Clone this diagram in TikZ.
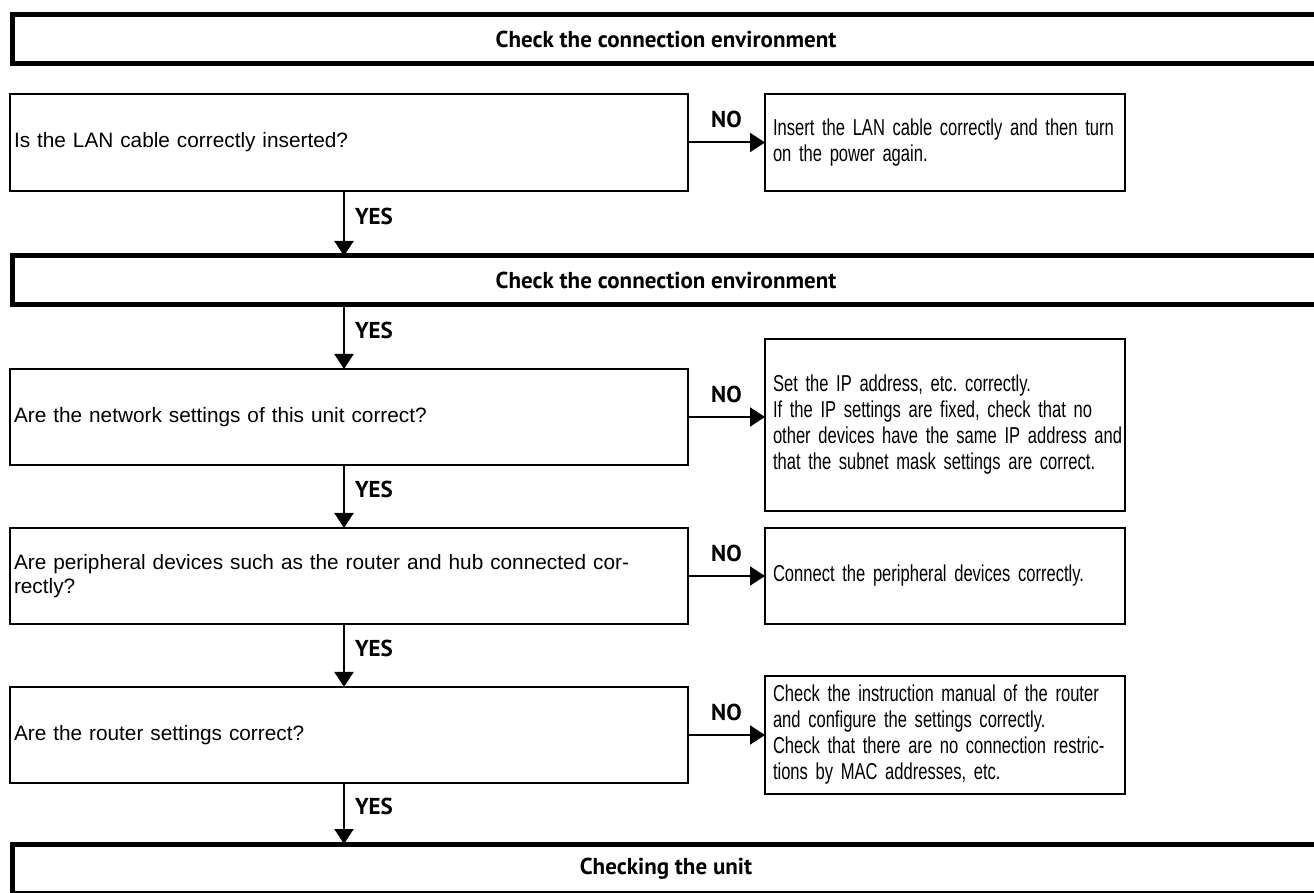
\documentclass[tikz,border=0pt]{standalone}
\usepackage{fontspec}
\setmainfont{Liberation Sans}
\newfontfamily\qfont{Liberation Sans}
\newfontfamily\afont[FakeStretch=0.72]{Liberation Sans}
\newfontfamily\lblfont{PT Sans}
\usetikzlibrary{arrows.meta}
\frenchspacing
\newcommand\keepline[1]{\mbox{#1}}
\begin{document}
\begin{tikzpicture}[x=0.5pt,y=-0.5pt,
  every node/.style={inner sep=0pt, outer sep=0pt},
  qbox/.style={draw, line width=0.8pt, anchor=north west, minimum width=339pt,
    minimum height=48pt, text width=335pt, inner xsep=2pt, align=left,
    font=\qfont\fontsize{10.4pt}{12pt}\selectfont},
  abox/.style={draw, line width=0.8pt, anchor=north west, minimum width=180pt,
    text width=172pt, inner xsep=4pt, align=left,
    font=\afont\fontsize{11.5pt}{13pt}\selectfont},
  bar/.style={anchor=north west, minimum width=654pt, minimum height=24.5pt,
    font=\lblfont\bfseries\fontsize{11.5pt}{13pt}\selectfont},
  barline/.style={line width=2.5pt, line join=miter},
  flow/.style={line width=1pt, -{Triangle[width=9.5pt,length=7.5pt]}},
  yeslbl/.style={anchor=west, xshift=5.5pt, yshift=3.5pt,
    font=\lblfont\bfseries\fontsize{11.5pt}{13pt}\selectfont},
  nolbl/.style={yshift=11.5pt, font=\lblfont\bfseries\fontsize{11.5pt}{13pt}\selectfont}
]
\useasboundingbox (0,0) rectangle (1314,893);
\fill[white] (0,0) rectangle (1314,893);

% header bars
\node[bar] (h1) at (12,14.5) {Check the connection environment};
\node[bar] (h2) at (12,256) {Check the connection environment};
\node[bar] (h3) at (12,844) {Checking the unit};
\foreach \h in {h1,h2,h3}
  \draw[barline] (\h.north east) -- (\h.north west) -- (\h.south west) -- (\h.south east);

% questions
\node[qbox, minimum height=48.5pt] (q1) at (10,94) {Is the LAN cable correctly inserted?};
\node[qbox] (q2) at (10,369) {Are the network settings of this unit correct?};
\node[qbox] (q3) at (10,528) {Are peripheral devices such as the router and hub connected cor-\\rectly?};
\node[qbox] (q4) at (10,687) {Are the router settings correct?};

% answers
\node[abox, minimum height=48.5pt] (a1) at (765,94) {\keepline{Insert the LAN cable correctly and then turn}\\on the power again.};
\node[abox, minimum height=86pt] (a2) at (765,339) {Set the IP address, etc. correctly.\\\keepline{If the IP settings are fixed, check that no}\\\keepline{other devices have the same IP address and}\\\keepline{that the subnet mask settings are correct.}};
\node[abox, minimum height=48pt] (a3) at (765,528) {Connect the peripheral devices correctly.};
\node[abox, minimum height=59pt] (a4) at (765,676) {\keepline{Check the instruction manual of the router}\\and configure the settings correctly.\\\keepline{Check that there are no connection restric-}\\tions by MAC addresses, etc.};

% vertical spine
\coordinate (sp) at (344,0);
\draw[flow] (q1.south -| sp) -- (h2.north -| sp) node[yeslbl, pos=0.5] {YES};
\draw[flow] (h2.south -| sp) -- (q2.north -| sp) node[yeslbl, pos=0.5] {YES};
\draw[flow] (q2.south -| sp) -- (q3.north -| sp) node[yeslbl, pos=0.5] {YES};
\draw[flow] (q3.south -| sp) -- (q4.north -| sp) node[yeslbl, pos=0.5] {YES};
\draw[flow] (q4.south -| sp) -- (h3.north -| sp) node[yeslbl, pos=0.5] {YES};

% NO branches
\draw[flow] (q1.east) -- (a1.west |- q1.east) node[nolbl, midway] {NO};
\draw[flow] (q2.east) -- (a2.west |- q2.east) node[nolbl, midway] {NO};
\draw[flow] (q3.east) -- (a3.west |- q3.east) node[nolbl, midway] {NO};
\draw[flow] (q4.east) -- (a4.west |- q4.east) node[nolbl, midway] {NO};
\end{tikzpicture}
\end{document}
